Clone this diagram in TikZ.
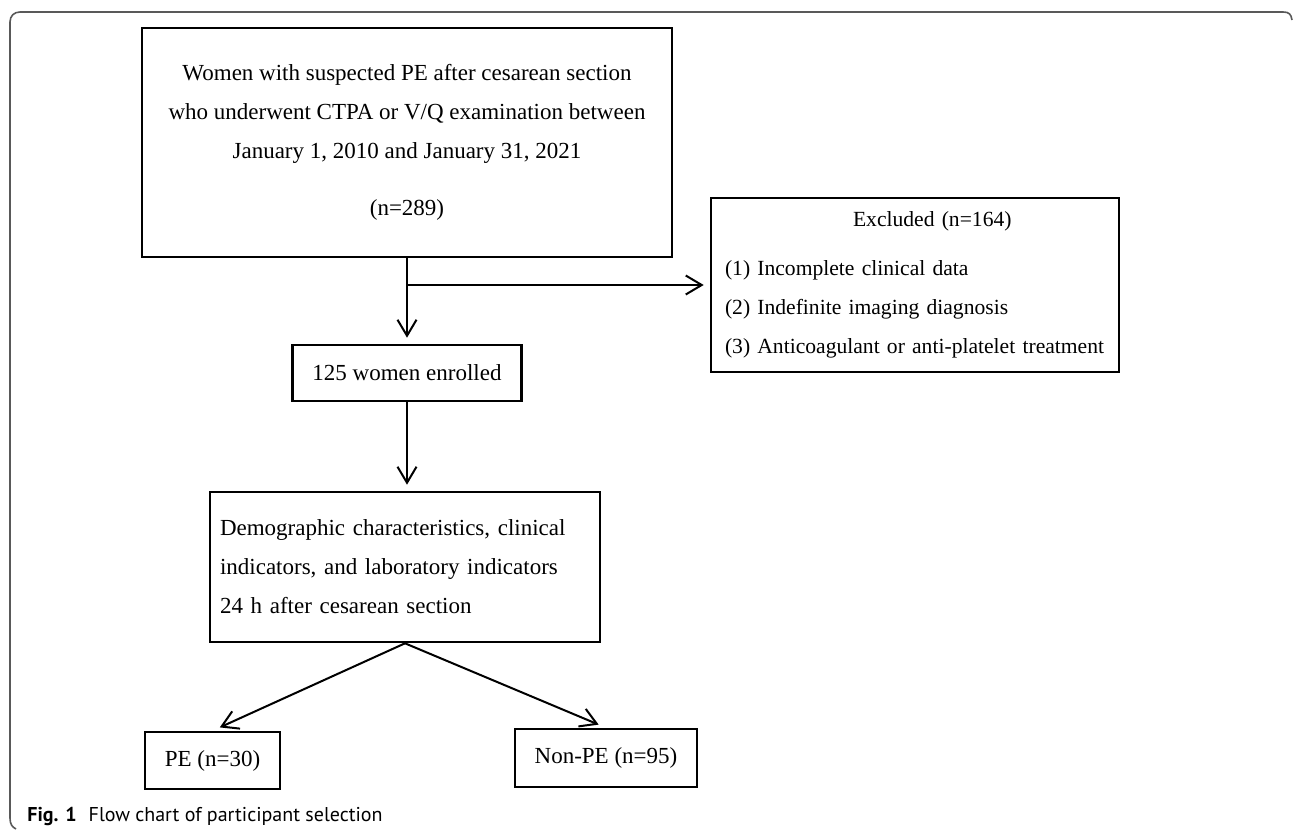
\documentclass[tikz,border=0pt]{standalone}
\usepackage{fontspec}
\setmainfont{Liberation Serif}
\newfontfamily\capfont{PT Sans}
\usetikzlibrary{arrows.meta}

\begin{document}
\begin{tikzpicture}[x=0.5pt, y=-0.5pt,
  every node/.style={font=\fontsize{11.5}{19.5}\selectfont},
  box/.style={draw, line width=1.3pt, inner sep=0pt},
  arr/.style={line width=1pt, -{Straight Barb[length=8pt,width=9.5pt]}, shorten >=3pt}]
  \useasboundingbox (0,0) rectangle (1293,829);
  % outer frame
  \draw[black!65, line width=0.8pt] (1292,20) .. controls (1291,14) and (1289,12) .. (1283,12)
    -- (20,12) .. controls (14,12) and (10,16) .. (10,22) -- (10,818)
    .. controls (10,824) and (12,827) .. (16,829);
  \node[box, minimum width=265pt, minimum height=114.5pt, align=center] (screen) at (407,142.5)
    {Women with suspected PE after cesarean section\\
     who underwent CTPA or V/Q examination between\\
     January 1, 2010 and January 31, 2021\\[9pt]
     (n=289)};
  \node[box, inner xsep=7pt, text width=190pt, minimum height=87pt, align=left,
    font=\fontsize{10.8}{19.5}\selectfont] (excl) at (915,285)
    {\hspace*{64pt}Excluded (n=164)\\[5pt]
     (1) Incomplete clinical data\\
     (2) Indefinite imaging diagnosis\\
     (3) Anticoagulant or anti-platelet treatment};
  \node[box, minimum width=114.5pt, minimum height=28pt] (enrol) at (407,373) {125 women enrolled};
  \node[box, inner xsep=5pt, text width=185pt, minimum height=75pt, align=left] (demo) at (405,567)
    {Demographic characteristics, clinical\\
     indicators, and laboratory indicators\\
     24 h after cesarean section};
  \node[box, minimum width=67.5pt, minimum height=28.5pt] (pe) at (212.5,760.5) {PE (n=30)};
  \node[box, minimum width=91pt, minimum height=29pt] (nonpe) at (606,758) {Non-PE (n=95)};
  \coordinate (split) at (407,285);
  \draw[arr] (screen) -- (enrol);
  \draw[arr] (split) -- (excl);
  \draw[arr] (enrol.south) -- (enrol.south |- demo.north);
  \draw[arr, shorten >=4pt] (demo.south) -- (pe.north);
  \draw[arr, shorten >=4pt] (demo.south) -- (nonpe.north);
  \node[anchor=base west, inner sep=0pt, font=\capfont\fontsize{10}{12}\selectfont] (caption) at (27,821)
    {\textbf{Fig. 1}\hspace{6pt}Flow chart of participant selection};
\end{tikzpicture}
\end{document}
